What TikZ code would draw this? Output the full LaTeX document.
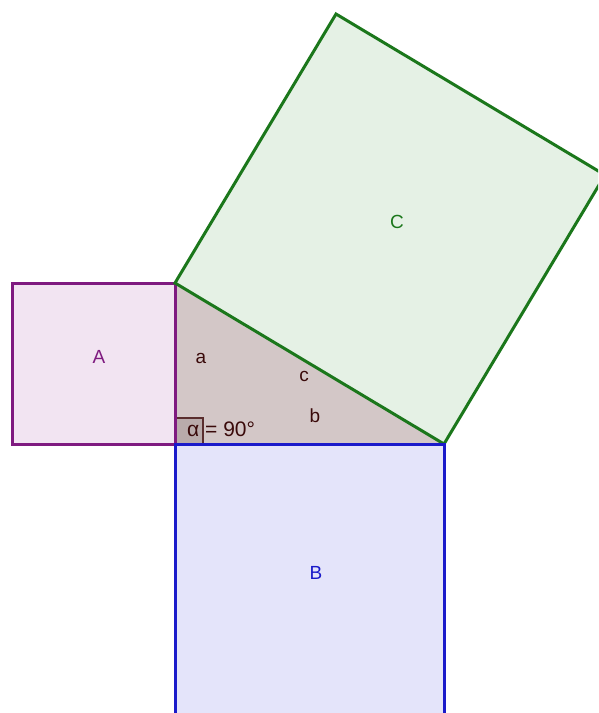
\documentclass[tikz,border=0pt]{standalone}
\usepackage{fontspec}
\setmainfont{Liberation Sans}
\definecolor{Afill}{HTML}{F2E4F2}
\definecolor{Aline}{HTML}{7F1A80}
\definecolor{Bfill}{HTML}{E4E4FA}
\definecolor{Bline}{HTML}{1A1ACA}
\definecolor{Cfill}{HTML}{E5F1E5}
\definecolor{Cline}{HTML}{1B771B}
\definecolor{Tfill}{HTML}{D3C7C7}
\definecolor{Mline}{HTML}{5A2E2E}
\definecolor{Mfill}{HTML}{B9ABAB}
\definecolor{Ttext}{HTML}{3A0A0A}
\tikzset{
  sq/.style={line width=3pt, line join=miter},
  lbl/.style={font=\fontsize{19}{22}\selectfont, inner sep=0pt},
  sidelbl/.style={font=\fontsize{19}{22}\selectfont, text=Ttext, inner sep=0pt}
}
\begin{document}
\begin{tikzpicture}[x=1pt,y=-1pt]
\useasboundingbox (0,0) rectangle (598,713);
\clip (0,0) rectangle (598,713);
\coordinate (R) at (175,444);
\coordinate (T) at (175,283);
\coordinate (S) at (444,444);
\coordinate (A1) at (12,283);
\coordinate (A2) at (12,444);
\coordinate (B1) at (444,717);
\coordinate (B2) at (175,717);
\coordinate (C1) at (605,175);
\coordinate (C2) at (336,14);
% triangle
\fill[Tfill] (R) -- (T) -- (S) -- cycle;
% right angle marker
\draw[Mline, fill=Mfill, line width=2pt] (175,418) rectangle (203,444);
% squares
\draw[sq, draw=Aline, fill=Afill] (A1) -- (T) -- (R) -- (A2) -- cycle;
\draw[sq, draw=Cline, fill=Cfill] (T) -- (S) -- (C1) -- (C2) -- cycle;
\draw[sq, draw=Bline, fill=Bfill] (R) -- (S) -- (B1) -- (B2) -- cycle;
% labels
\node[lbl, text=Aline] (la) at (99,357) {A};
\node[lbl, text=Bline] (lb) at (316,573) {B};
\node[lbl, text=Cline] (lc) at (397,222) {C};
\node[sidelbl] (sa) at (201,358) {a};
\node[sidelbl] (sc) at (304,376) {c};
\node[sidelbl] (sb) at (315,416) {b};
\node[sidelbl, anchor=base west, font=\fontsize{21}{24}\selectfont] (ang) at (187,436) {α = 90°};
\end{tikzpicture}
\end{document}
